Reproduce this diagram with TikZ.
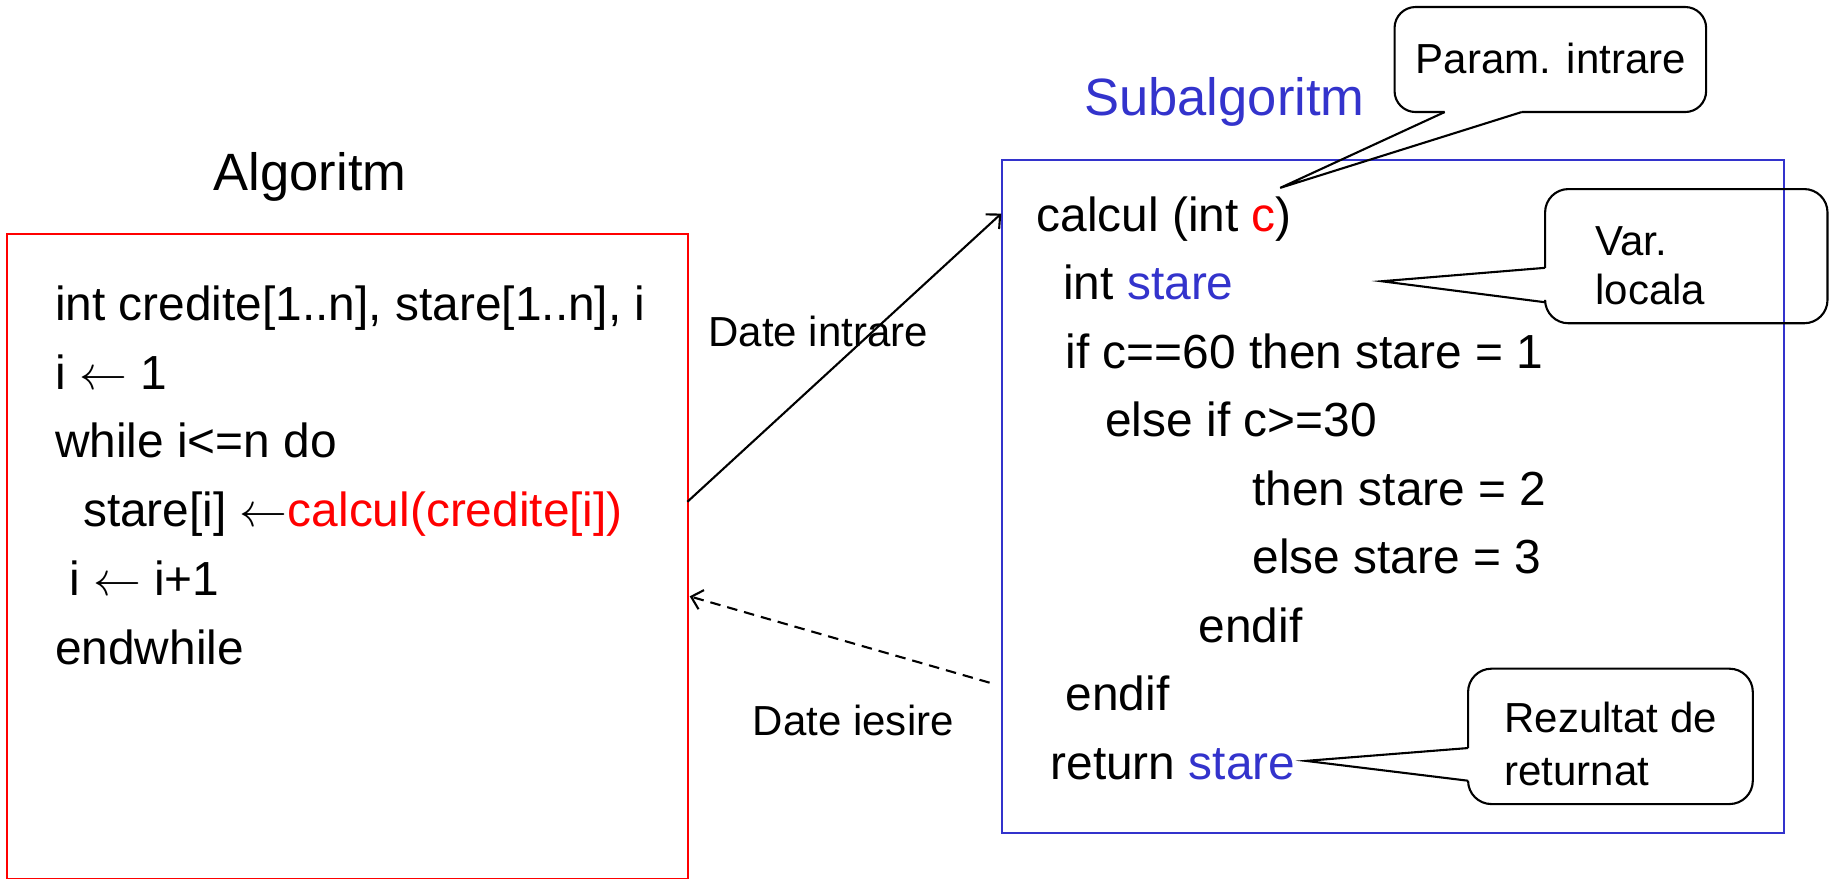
\documentclass[tikz,border=0pt]{standalone}
\usepackage{fontspec}
\setmainfont{Liberation Sans}
\usetikzlibrary{arrows.meta}
\definecolor{subblue}{RGB}{51,51,204}
\newcommand{\larrow}{\scalebox{1.65}{$\leftarrow$}}
\begin{document}
\begin{tikzpicture}[x=1pt,y=-1pt,
  code/.style={anchor=base west, inner sep=0pt, font=\fontsize{41}{49}\selectfont},
  title/.style={anchor=base west, inner sep=0pt, font=\fontsize{45}{54}\selectfont},
  lbl/.style={anchor=base west, inner sep=0pt, font=\fontsize{36}{43}\selectfont},
  callout/.style={draw=black, line width=1.8pt, line join=miter},
  flow/.style={line width=1.8pt, -{Straight Barb[length=9pt,width=17pt,line width=1.8pt]}},
  codebox/.style={line width=1.6pt, inner sep=0pt, anchor=north west},
]
\useasboundingbox (0,0) rectangle (1569,753);

% boxes
\node[codebox, draw=red, minimum width=584pt, minimum height=552pt] (algbox) at (5,200) {};
\node[codebox, draw=subblue, minimum width=670pt, minimum height=577pt] (subbox) at (858,136) {};

% titles
\node[title] (t1) at (183,163) {Algoritm};
\node[title, text=subblue] (t2) at (929,98.6) {Subalgoritm};

% left code
\node[code] (a1) at (47,275) {int credite[1..n], stare[1..n], i};
\node[code] (a2) at (47,333.5) {i \larrow{} 1};
\node[code] (a3) at (47,392) {while i<=n do};
\node[code] (a4) at (71,451) {stare[i] \larrow\textcolor{red}{calcul(credite[i])}};
\node[code] (a5) at (59,510) {i \larrow{} i+1};
\node[code] (a6) at (47,569) {endwhile};

% right code
\node[code] (b1) at (888,198) {calcul (int \textcolor{red}{c})};
\node[code] (b2) at (911,257) {int \textcolor{subblue}{stare}};
\node[code] (b3) at (913,315.6) {if c==60 then stare = 1};
\node[code] (b4) at (947,374.3) {else if c>=30};
\node[code] (b5) at (1073,433) {then stare = 2};
\node[code] (b6) at (1073,491.7) {else stare = 3};
\node[code] (b7) at (1027,550.4) {endif};
\node[code] (b8) at (913,609) {endif};
\node[code] (b9) at (900,667.8) {return \textcolor{subblue}{stare}};

% flow arrows
\coordinate (inA) at (589,430);
\coordinate (inB) at (858,183);
\coordinate (outA) at (848,585);
\coordinate (outB) at (591,511);
\draw[flow] (inA) -- (inB);
\draw[flow, dash pattern=on 9pt off 6pt] (outA) -- (outB);
\node[lbl] (d1) at (607,297) {Date intrare};
\node[lbl] (d2) at (645,630) {Date iesire};

% callout: Param. intrare
\coordinate (p1) at (1238,96);
\coordinate (p2) at (1304,96);
\coordinate (ptip) at (1097,161);
\draw[callout, rounded corners=18pt] (p2) -- (1462,96) -- (1462,6) -- (1195,6) -- (1195,96) -- (p1);
\draw[callout] (p1) -- (ptip) -- (p2);
\node[lbl] (n1) at (1213,63) {Param. intrare};

% callout: Var. locala
\coordinate (v1) at (1324,229.5);
\coordinate (v2) at (1324,259);
\coordinate (vtip) at (1184,241);
\draw[callout, rounded corners=20pt] (v2) -- (1324,277) -- (1566,277) -- (1566,162) -- (1324,162) -- (v1);
\draw[callout] (v1) -- (vtip) -- (v2);
\node[lbl] (n2a) at (1367,219) {Var.};
\node[lbl] (n2b) at (1367,261) {locala};

% callout: Rezultat de returnat
\coordinate (r1) at (1258,641);
\coordinate (r2) at (1258,669);
\coordinate (rtip) at (1119,652);
\draw[callout, rounded corners=20pt] (r2) -- (1258,689) -- (1502,689) -- (1502,573) -- (1258,573) -- (r1);
\draw[callout] (r1) -- (rtip) -- (r2);
\node[lbl] (n3a) at (1289,628) {Rezultat de};
\node[lbl] (n3b) at (1289,673) {returnat};
\end{tikzpicture}
\end{document}
